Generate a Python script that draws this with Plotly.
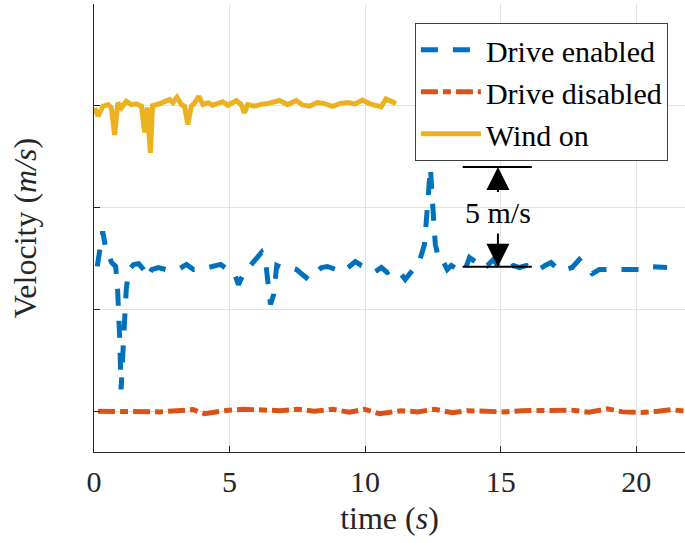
import plotly.graph_objects as go

# ---- data ----
enabled_t = [0.12, 0.21, 0.32, 0.43, 0.54, 0.65, 0.80, 0.87, 0.95, 1.00, 1.09, 1.19, 1.28, 1.46, 1.65,
             1.83, 1.98, 2.13, 2.38, 2.64, 2.90, 3.16, 3.41, 3.67, 3.93, 4.19, 4.41, 4.67, 4.93, 5.15,
             5.33, 5.48, 5.74, 5.96, 6.18, 6.33, 6.44, 6.51, 6.63, 6.74, 6.92, 7.22, 7.47, 7.69, 7.91,
             8.13, 8.39, 8.61, 8.91, 9.16, 9.42, 9.64, 9.86, 10.16, 10.38, 10.60, 10.82, 11.04, 11.26,
             11.48, 11.63, 11.82, 12.00, 12.19, 12.30, 12.37, 12.41, 12.48, 12.59, 12.74, 12.88, 13.03,
             13.18, 13.40, 13.66, 13.85, 14.06, 14.29, 14.51, 14.73, 14.95, 15.21, 15.47, 15.69, 15.95,
             16.17, 16.42, 16.64, 16.86, 17.12, 17.38, 17.64, 17.90, 18.15, 18.38, 18.64, 19.00, 19.37,
             19.74, 20.11, 20.48, 20.84, 21.14]
enabled_v = [7.11, 8.04, 8.83, 8.04, 7.65, 7.30, 7.11, 5.98, 3.52, 1.07, 3.52, 5.98, 6.96, 7.20, 7.25,
             6.96, 6.57, 6.96, 7.06, 6.96, 6.96, 7.01, 7.21, 6.96, 6.96, 7.06, 7.15, 7.21, 6.96, 6.86,
             6.22, 6.66, 7.11, 7.45, 7.80, 7.35, 6.22, 5.24, 5.73, 7.16, 7.06, 7.06, 6.96, 6.71, 6.47,
             6.76, 7.06, 7.11, 6.96, 6.86, 7.11, 7.35, 7.16, 6.96, 6.86, 7.06, 6.81, 6.96, 6.86,
             6.47, 6.71, 7.06, 7.35, 8.19, 9.91, 11.63, 11.97, 10.40, 8.19, 7.35, 7.35, 6.96,
             7.16, 6.96, 6.86, 7.55, 7.35, 7.45, 7.16, 7.45, 7.06, 6.96, 7.16, 7.06, 7.16,
             6.96, 6.96, 7.16, 7.30, 6.96, 6.96, 7.06, 7.45, 7.06, 6.76, 6.96, 6.96, 6.96,
             7.01, 6.96, 7.11, 7.11, 7.06]

disabled_t = [0.15, 0.76, 1.68, 2.42, 3.04, 3.65, 4.08, 4.57, 4.94, 5.49, 6.23, 6.84, 7.52, 8.13,
              8.81, 9.42, 9.97, 10.53, 11.33, 11.94, 12.55, 13.23, 13.78, 14.46, 15.13, 15.80, 16.42,
              17.04, 17.65, 18.26, 18.94, 19.50, 20.20, 20.80, 21.30, 21.80]
disabled_v = [0.00, 0.00, -0.05, -0.03, 0.03, 0.08, -0.12, 0.00, 0.05, 0.10, 0.03, 0.03, 0.10, 0.00,
              0.10, -0.05, 0.10, -0.12, 0.03, -0.03, 0.10, -0.07, 0.03, 0.00, -0.03, 0.03, 0.03,
              0.06, 0.05, -0.05, 0.12, -0.03, -0.06, 0.00, 0.08, 0.00]

wind_t = [0.03, 0.15, 0.33, 0.52, 0.64, 0.76, 0.88, 1.01, 1.19, 1.38, 1.56, 1.75, 1.87, 1.96, 2.08,
          2.16, 2.42, 2.61, 2.79, 2.91, 3.06, 3.22, 3.34, 3.46, 3.59, 3.71, 3.87, 4.02, 4.20, 4.38,
          4.57, 4.75, 4.94, 5.25, 5.43, 5.55, 5.67, 5.92, 6.11, 6.40, 6.84, 7.14, 7.46, 7.69, 7.95,
          8.24, 8.50, 8.80, 9.05, 9.35, 9.64, 9.90, 10.16, 10.38, 10.59, 10.77, 10.93, 11.14]
wind_v = [14.90, 14.49, 14.98, 15.06, 14.90, 13.57, 15.15, 14.90, 15.23, 15.06, 15.10, 14.98, 13.69, 14.92, 12.69,
          15.01, 15.10, 15.20, 15.31, 15.15, 15.42, 15.06, 14.98, 14.08, 14.98, 15.14, 15.47, 15.06, 15.15, 15.03,
          15.15, 15.20, 15.03, 15.26, 15.06, 14.66, 15.06, 14.98, 15.06, 15.11, 15.26, 15.06, 15.26, 15.04, 14.98,
          15.16, 15.11, 14.97, 15.11, 15.16, 15.09, 15.28, 15.11, 15.06, 14.95, 15.34, 15.21, 15.11]

x_ticks = [0, 5, 10, 15, 20]
y_ticks = [0, 5, 10, 15, 20]
x_range = [0, 21.8]
y_range = [-2, 20]

# scale-bar annotation
bar_t = [13.6, 16.15]
bar_mid_t = 14.9
bar_low, bar_high = 7.1, 12.0
bar_label = "5 m/s"

FONT = "Liberation Serif"
AX = "#262626"

fig = go.Figure()
fig.add_trace(go.Scatter(x=enabled_t, y=enabled_v, mode="lines", name="Drive enabled",
                         line=dict(color="#0072BD", width=5, dash="17px,15px")))
fig.add_trace(go.Scatter(x=disabled_t, y=disabled_v, mode="lines", name="Drive disabled",
                         line=dict(color="#D95319", width=5, dash="17px,5px,8px,5px")))
fig.add_trace(go.Scatter(x=wind_t, y=wind_v, mode="lines", name="Wind on",
                         line=dict(color="#EDB120", width=5)))

# scale bar lines
for yv in (bar_low, bar_high):
    fig.add_shape(type="line", xref="x", yref="y", x0=bar_t[0], x1=bar_t[1], y0=yv, y1=yv,
                  line=dict(color="black", width=2))
bar_text_v = (bar_low + bar_high) / 2 + 0.2
fig.add_annotation(x=bar_mid_t, y=bar_text_v, text=bar_label, showarrow=False,
                   font=dict(family=FONT, size=30, color="black"))
fig.add_annotation(x=bar_mid_t, y=bar_high, ax=bar_mid_t, ay=bar_text_v + 0.95, xref="x", yref="y",
                   axref="x", ayref="y", showarrow=True, arrowhead=2, arrowsize=2.3, arrowwidth=2,
                   arrowcolor="black", text="")
fig.add_annotation(x=bar_mid_t, y=bar_low, ax=bar_mid_t, ay=bar_text_v - 0.95, xref="x", yref="y",
                   axref="x", ayref="y", showarrow=True, arrowhead=2, arrowsize=2.3, arrowwidth=2,
                   arrowcolor="black", text="")

fig.update_layout(
    width=685, height=543,
    margin=dict(l=94, r=0, t=4, b=91),
    plot_bgcolor="white", paper_bgcolor="white",
    font=dict(family=FONT, size=30, color=AX),
    showlegend=True,
    legend=dict(x=0.543, y=0.958, xanchor="left", yanchor="top",
                bgcolor="white", bordercolor="#404040", borderwidth=1,
                font=dict(family=FONT, size=30, color="black"),
                itemwidth=60, tracegroupgap=0),
)
fig.update_xaxes(range=x_range, tickvals=x_ticks, ticks="inside", ticklen=6, tickcolor=AX,
                 showline=True, linecolor=AX, linewidth=1, mirror=False,
                 showgrid=True, gridcolor="#e3e3e3", gridwidth=1, zeroline=False,
                 tickfont=dict(family=FONT, size=30, color=AX), ticklabelstandoff=3,
                 title=dict(text="time (<i>s</i>)", font=dict(family=FONT, size=32, color=AX), standoff=9))
fig.update_yaxes(range=y_range, tickvals=y_ticks, ticks="inside", ticklen=6, tickcolor=AX,
                 showticklabels=False,
                 showline=True, linecolor=AX, linewidth=1, mirror=False,
                 showgrid=True, gridcolor="#e3e3e3", gridwidth=1, zeroline=False,
                 title=dict(text="Velocity (<i>m/s</i>)", font=dict(family=FONT, size=32, color=AX), standoff=46))

fig.write_html("out.html")
